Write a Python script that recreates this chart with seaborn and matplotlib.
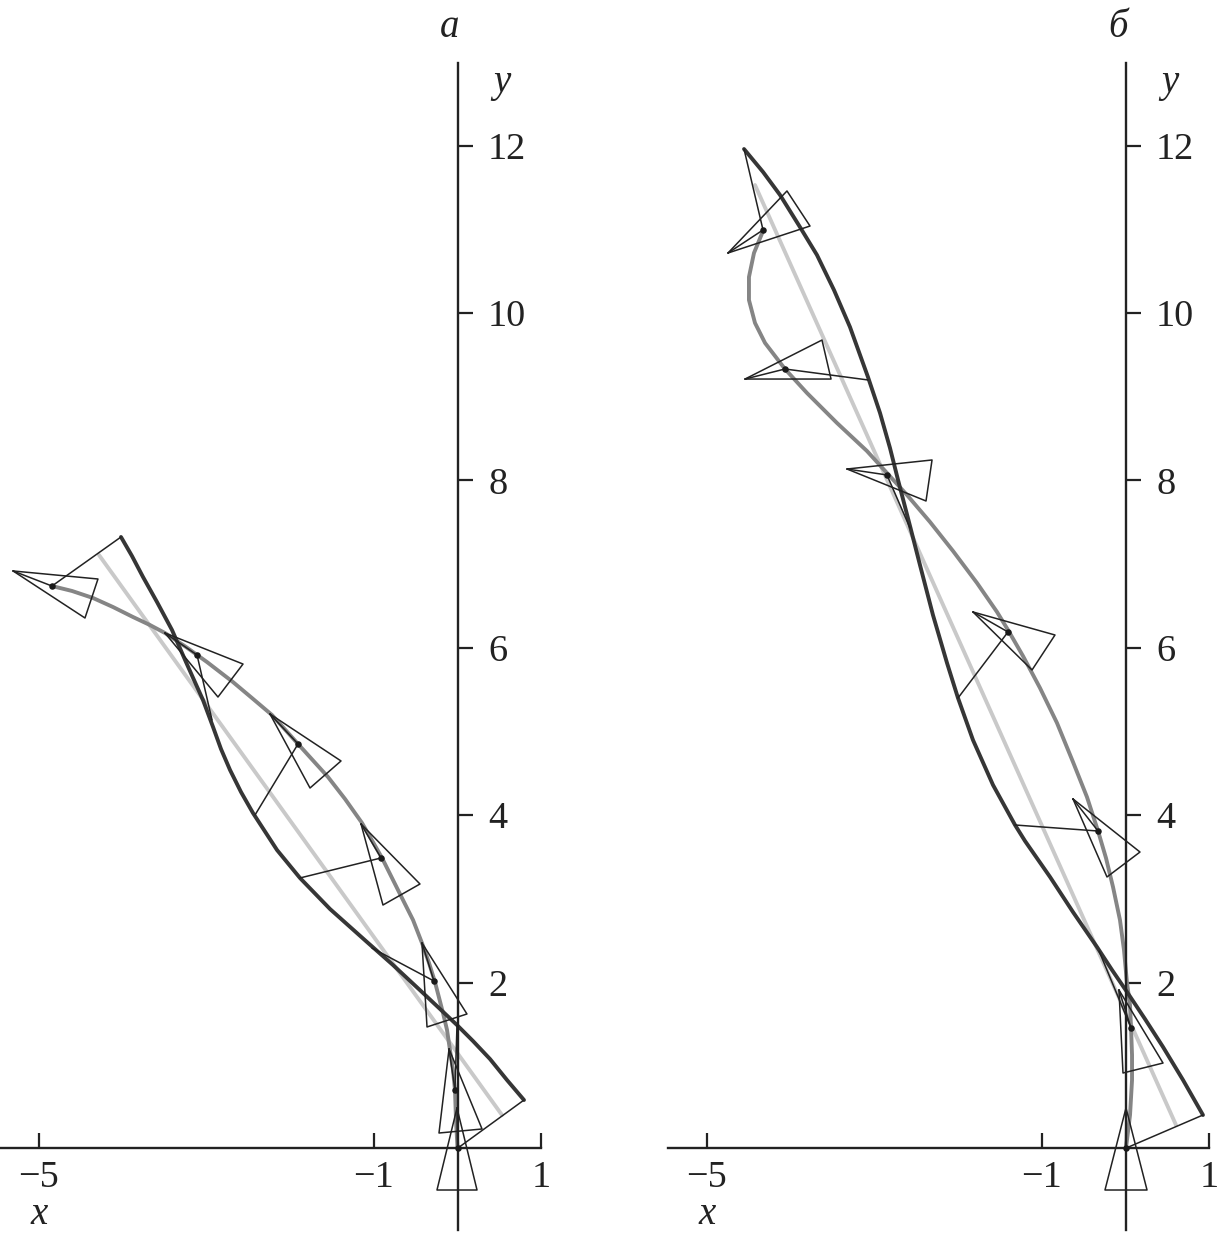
import matplotlib
matplotlib.use("Agg")
import matplotlib.pyplot as plt
import seaborn as sns

W, H = 1219, 1234

x_ticks = [-5, -1, 1]
y_ticks = [2, 4, 6, 8, 10, 12]

# panel a
a_dark_x = [-4.018, -3.887, -3.755, -3.588, -3.409, -3.242, -3.146, -3.039, -2.919, -2.824, -2.716, -2.585, -2.442,
            -2.155, -1.881, -1.522, -1.081, -0.770, -0.591, -0.412, -0.209, -0.006, 0.185, 0.388, 0.591, 0.794]
a_dark_y = [7.324, 7.097, 6.846, 6.547, 6.213, 5.830, 5.615, 5.376, 5.054, 4.791, 4.540, 4.277, 4.026,
            3.584, 3.250, 2.879, 2.485, 2.210, 2.043, 1.876, 1.685, 1.493, 1.302, 1.087, 0.836, 0.597]
a_gray_x = [-4.842, -4.603, -4.352, -4.113, -3.875, -3.672, -3.493, -3.242, -2.991, -2.681, -2.454, -2.215, -1.904,
            -1.546, -1.343, -1.140, -0.901, -0.651, -0.531, -0.424, -0.340, -0.269, -0.173, -0.125, -0.090, -0.054,
            -0.030, -0.018, 0.0]
a_gray_y = [6.738, 6.679, 6.595, 6.487, 6.368, 6.272, 6.177, 6.010, 5.830, 5.591, 5.400, 5.197, 4.851,
            4.456, 4.194, 3.907, 3.489, 2.987, 2.748, 2.473, 2.234, 2.007, 1.637, 1.434, 1.195, 0.956,
            0.717, 0.358, 0.024]
a_light_x = [-4.281, 0.531]
a_light_y = [7.109, 0.418]
a_tri_x = [[-5.307, -4.293, -4.448], [-3.493, -2.561, -2.860], [-2.239, -1.391, -1.761], [-1.152, -0.448, -0.890],
           [-0.424, 0.113, -0.364], [-0.101, 0.293, -0.221], [-0.006, -0.245, 0.233]]
a_tri_y = [[6.918, 6.822, 6.356], [6.177, 5.806, 5.412], [5.209, 4.648, 4.325], [3.895, 3.178, 2.927],
           [2.473, 1.625, 1.470], [1.207, 0.251, 0.203], [0.502, -0.478, -0.478]]
a_dot_x = [-4.842, -3.110, -1.904, -0.913, -0.281, -0.030, 0.0]
a_dot_y = [6.738, 5.914, 4.851, 3.489, 2.019, 0.717, 0.02]
a_link_x = [-4.018, -2.931, -2.418, -1.881, -1.021, -0.006, 0.794]
a_link_y = [7.324, 5.137, 4.002, 3.250, 2.413, 1.493, 0.597]

# panel b
b_dark_x = [-4.555, -4.328, -4.125, -3.887, -3.684, -3.481, -3.290, -3.075, -2.931, -2.812, -2.716, -2.573, -2.454,
            -2.299, -2.131, -2.000, -1.821, -1.582, -1.319, -1.200, -0.901, -0.627, -0.340, -0.161, 0.018, 0.233,
            0.448, 0.687, 0.925]
b_dark_y = [11.959, 11.685, 11.410, 11.027, 10.693, 10.275, 9.833, 9.235, 8.805, 8.387, 8.005, 7.455, 6.989,
            6.392, 5.818, 5.400, 4.898, 4.361, 3.883, 3.692, 3.262, 2.843, 2.425, 2.151, 1.888, 1.565,
            1.231, 0.836, 0.418]
b_gray_x = [-4.328, -4.436, -4.496, -4.496, -4.424, -4.304, -4.066, -3.803, -3.445, -3.087, -2.609, -2.334, -2.060,
            -1.773, -1.534, -1.403, -1.224, -1.021, -0.818, -0.627, -0.460, -0.328, -0.233, -0.149, -0.066, -0.018,
            0.018, 0.054, 0.066, 0.078, 0.078, 0.054, 0.006]
b_gray_y = [10.980, 10.717, 10.430, 10.155, 9.881, 9.642, 9.331, 9.044, 8.686, 8.351, 7.826, 7.503, 7.157,
            6.774, 6.428, 6.213, 5.902, 5.520, 5.102, 4.636, 4.217, 3.811, 3.489, 3.142, 2.748, 2.389,
            1.995, 1.732, 1.458, 1.135, 0.836, 0.418, 0.024]
b_light_x = [-4.424, 0.603]
b_light_y = [11.529, 0.299]
b_tri_x = [[-4.746, -4.042, -3.767], [-4.543, -3.624, -3.516], [-3.325, -2.310, -2.382], [-1.821, -0.842, -1.116],
           [-0.627, 0.173, -0.221], [-0.078, 0.448, -0.030], [0.006, -0.245, 0.257]]
b_tri_y = [[10.717, 11.458, 11.039], [9.211, 9.677, 9.211], [8.136, 8.244, 7.754], [6.428, 6.153, 5.735],
           [4.194, 3.560, 3.262], [1.912, 1.039, 0.920], [0.502, -0.478, -0.478]]
b_dot_x = [-4.328, -4.066, -2.848, -1.403, -0.328, 0.066, 0.0]
b_dot_y = [10.992, 9.331, 8.065, 6.189, 3.811, 1.458, 0.02]
b_link_x = [-4.555, -3.075, -2.573, -2.000, -1.319, -0.316, 0.925]
b_link_y = [11.959, 9.200, 7.431, 5.400, 3.883, 2.378, 0.418]

sns.set_theme(style="ticks")
plt.rcParams["font.family"] = "Liberation Serif"
plt.rcParams["text.color"] = "#222222"

fig = plt.figure(figsize=(W / 100, H / 100), dpi=100)


def draw_panel(px_left, px_right, px_zero, px_start, letter, dark, gray, light, tri, dots, links):
    ax = fig.add_axes([px_left / W, 0, (px_right - px_left) / W, 1])
    ax.patch.set_alpha(0)

    sns.lineplot(x=light[0], y=light[1], color="#c9c9c9", lw=2.8, sort=False, estimator=None, ax=ax)
    sns.lineplot(x=gray[0], y=gray[1], color="#858585", lw=2.8, sort=False, estimator=None, ax=ax)
    sns.lineplot(x=dark[0], y=dark[1], color="#363636", lw=2.8, sort=False, estimator=None, ax=ax)

    for tx, ty, dx, dy, lx, ly in zip(tri[0], tri[1], dots[0], dots[1], links[0], links[1]):
        ax.plot(tx + tx[:1], ty + ty[:1], color="#222222", lw=1.1)
        ax.plot([dx, tx[0]], [dy, ty[0]], color="#222222", lw=1.1)
        ax.plot([dx, lx], [dy, ly], color="#222222", lw=1.1)
    sns.scatterplot(x=dots[0], y=dots[1], color="#1a1a1a", s=22, linewidth=0, zorder=5, ax=ax)

    ax.set_xlim((px_left - px_zero) / 83.75, (px_right - px_zero) / 83.75)
    ax.set_ylim((1150 - H) / 83.7, 1150 / 83.7)

    ax.spines["top"].set_visible(False)
    ax.spines["left"].set_visible(False)
    ax.spines["right"].set_visible(True)
    ax.spines["right"].set_position(("data", 0))
    ax.spines["bottom"].set_position(("data", 0.02))
    ax.spines["right"].set_bounds(-0.95, 12.99)
    ax.spines["bottom"].set_bounds((px_start - px_zero) / 83.75, 1)
    for s in ["right", "bottom"]:
        ax.spines[s].set_linewidth(1.7)
        ax.spines[s].set_color("#222222")

    ax.yaxis.tick_right()
    ax.set_xticks(x_ticks)
    ax.set_yticks(y_ticks)
    ax.tick_params(axis="x", direction="in", length=10.5, width=1.6, pad=9, labelsize=27.5, colors="#222222")
    ax.tick_params(axis="y", direction="out", length=10.5, width=1.6, pad=11.5, labelsize=27.5, colors="#222222")
    ax.set_xlabel("")
    ax.set_ylabel("")

    ax.text(-5, -0.77, "x", style="italic", fontsize=28, ha="center", va="center")
    ax.text(0.53, 12.75, "y", style="italic", fontsize=28, ha="center", va="center")
    ax.text(-0.09, 13.41, letter, style="italic", fontsize=28, ha="center", va="center")


draw_panel(0, 600, 457.5, 0, "а",
           (a_dark_x, a_dark_y), (a_gray_x, a_gray_y), (a_light_x, a_light_y),
           (a_tri_x, a_tri_y), (a_dot_x, a_dot_y), (a_link_x, a_link_y))
draw_panel(620, 1219, 1125.5, 668, "б",
           (b_dark_x, b_dark_y), (b_gray_x, b_gray_y), (b_light_x, b_light_y),
           (b_tri_x, b_tri_y), (b_dot_x, b_dot_y), (b_link_x, b_link_y))

fig.savefig("out.png", dpi=100)
